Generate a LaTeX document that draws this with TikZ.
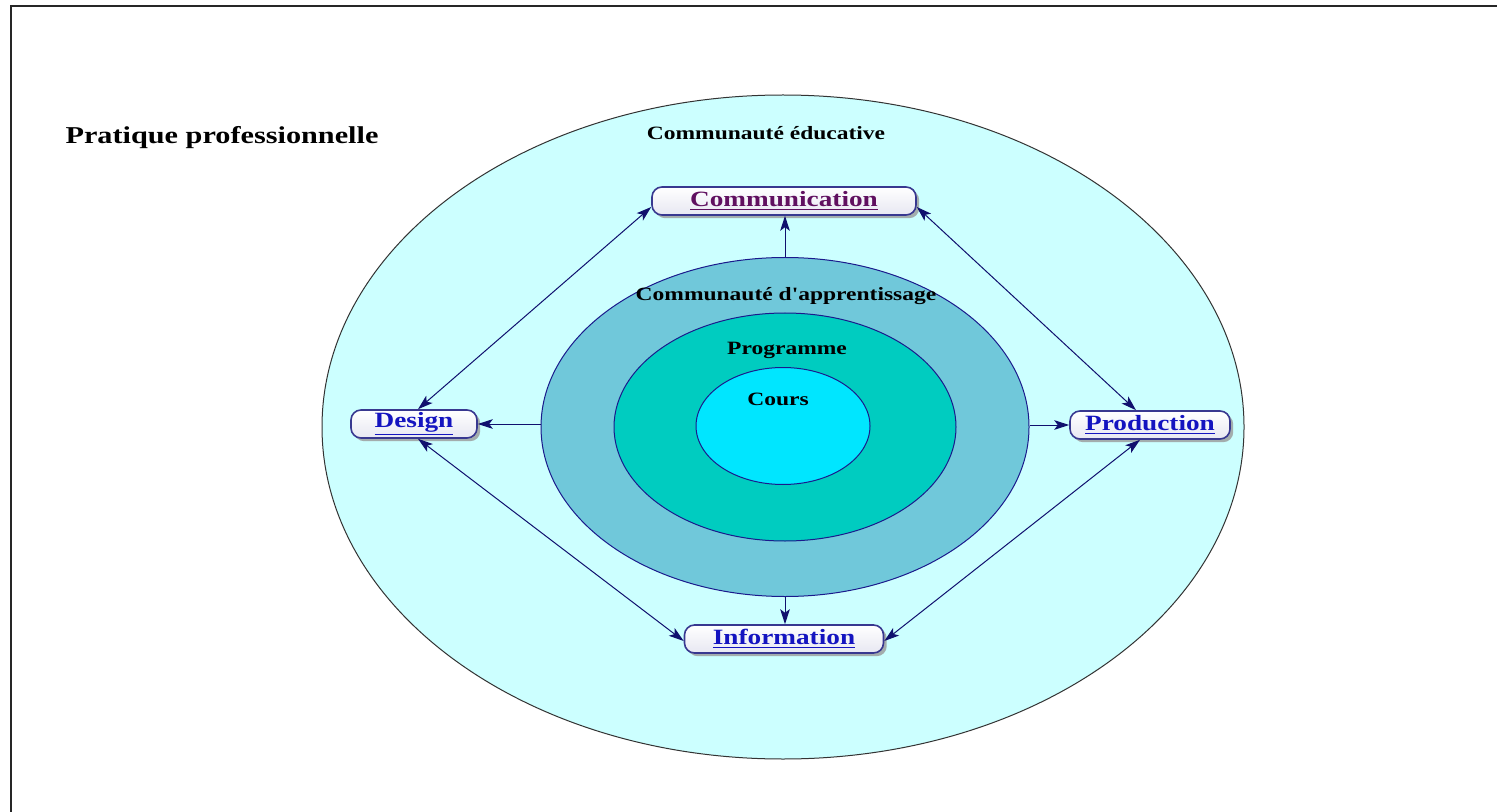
\documentclass[tikz,border=0pt]{standalone}
\usepackage{fontspec}
\setmainfont{Liberation Serif}[FakeStretch=1.25]
\newfontfamily\plainq{Liberation Serif}[FakeStretch=1.25]
\usetikzlibrary{arrows.meta,shadows,shapes.geometric}
\definecolor{outerfill}{HTML}{CCFFFF}
\definecolor{appfill}{HTML}{70C8DA}
\definecolor{progfill}{HTML}{00CCC0}
\definecolor{coursfill}{HTML}{00E6FF}
\definecolor{ringline}{HTML}{1A1A8C}
\definecolor{linkblue}{HTML}{1414C0}
\definecolor{linkpurple}{HTML}{601060}
\definecolor{boxline}{HTML}{383890}
\definecolor{arrowcol}{HTML}{10106E}
\newcommand{\linkul}[1]{\underline{\smash{#1}}}
\tikzset{
  ring/.style={ellipse, inner sep=0pt, draw=ringline, line width=0.5pt},
  linkbox/.style={rounded corners=5pt, draw=boxline, line width=0.8pt,
    top color=white, bottom color=white!88!boxline,
    drop shadow={shadow xshift=1.6pt, shadow yshift=-1.6pt, fill=black!40, opacity=0.8},
    minimum height=14pt, inner sep=0pt, font=\fontsize{10.9}{13}\selectfont\bfseries},
  ringlabel/.style={font=\fontsize{9.4}{11}\selectfont\bfseries, text=black, inner sep=0pt},
  tip/.tip={Stealth[length=7.5pt,width=4.8pt,inset=1.8pt]},
  conn/.style={draw=arrowcol, line width=0.5pt, -tip},
  dconn/.style={draw=arrowcol, line width=0.5pt, tip-tip}
}
\begin{document}
\begin{tikzpicture}[x=0.5pt,y=-0.5pt]
\useasboundingbox (0,0) rectangle (1497,812);
\fill[white] (0,0) rectangle (1497,812);
\draw[line width=1pt, black!85] (11,812) -- (11,6) -- (1497,6);

\node[ring, draw=black!80, fill=outerfill, minimum width=461pt, minimum height=332pt] (outer) at (783,427) {};
\node[ring, fill=appfill, minimum width=244pt, minimum height=169.5pt] (app) at (785,427) {};
\node[ring, fill=progfill, minimum width=171pt, minimum height=114pt] (prog) at (785,427) {};
\node[ring, fill=coursfill, minimum width=87pt, minimum height=58.5pt] (cours) at (783,426) {};

\node[font=\fontsize{12.1}{15}\selectfont\bfseries, inner sep=0pt] (pratique) at (222,138) {Pratique professionnelle};
\node[ringlabel] (lblouter) at (766,133) {Communauté éducative};
\node[ringlabel] (lblapp) at (786,296) {Communauté d{\plainq '}apprentissage};
\node[ringlabel] (lblprog) at (787,350) {Programme};
\node[ringlabel] (lblcours) at (778,399) {Cours};

\node[linkbox, minimum width=132pt, text=linkpurple] (com) at (784,201) {\raisebox{-1pt}{\underline{Communication}}};
\node[linkbox, minimum width=63pt, text=linkblue] (des) at (414,424) {\raisebox{-1pt}{\underline{Design}}};
\node[linkbox, minimum width=80pt, text=linkblue] (prod) at (1150,425) {\raisebox{-1pt}{\underline{Production}}};
\node[linkbox, minimum width=99.5pt, text=linkblue] (info) at (784,639) {\raisebox{-1pt}{\underline{Information}}};

\draw[conn] (app.north) -- (app.north |- com.south);
\draw[conn] (des.east -| app.west) -- (des.east);
\draw[conn] (prod.west -| app.east) -- (prod.west);
\draw[conn] (app.south) -- (app.south |- info.north);

\draw[dconn] ([yshift=-3pt]com.west) -- ([xshift=2pt]des.north);
\draw[dconn] ([yshift=-3pt]com.east) -- ([xshift=-7pt]prod.north);
\draw[dconn] ([xshift=2pt]des.south) -- ([yshift=-1pt]info.west);
\draw[dconn] ([yshift=-1pt]info.east) -- ([xshift=-5pt]prod.south);
\end{tikzpicture}
\end{document}
